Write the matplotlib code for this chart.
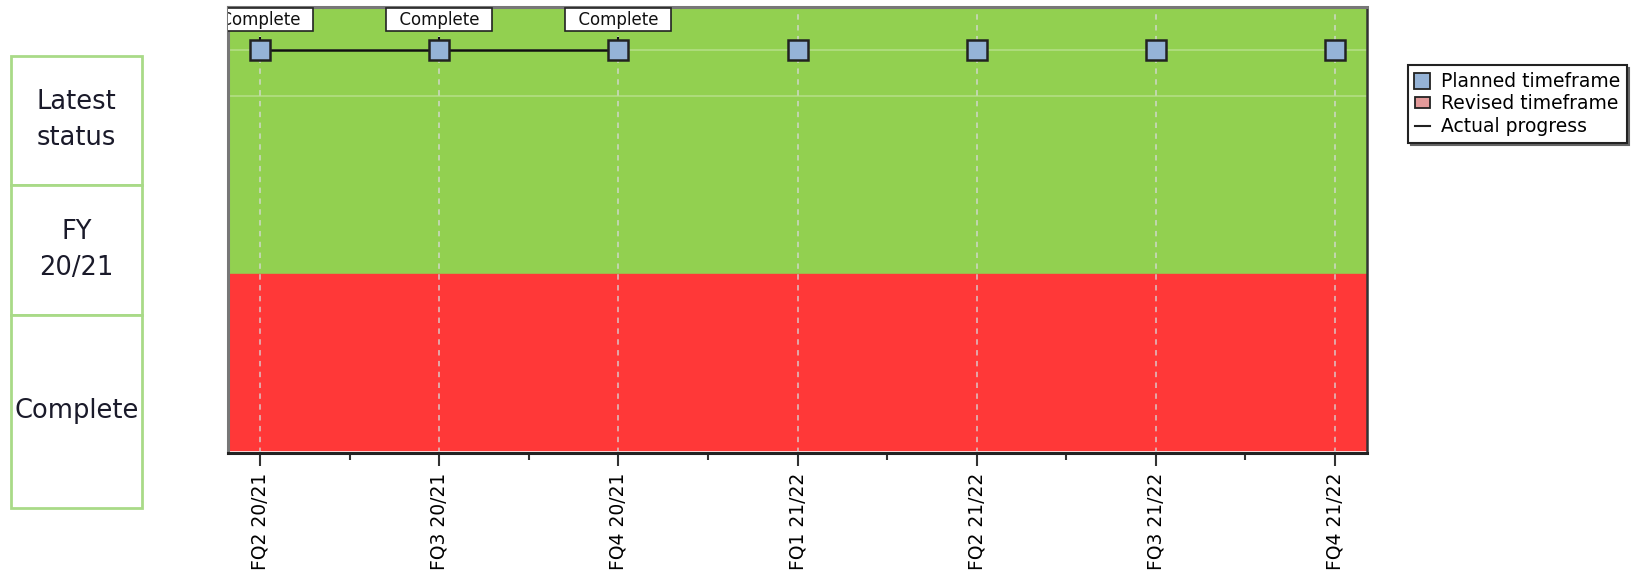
import matplotlib
matplotlib.use('Agg')
from matplotlib import pyplot as plt
from matplotlib.patches import Patch
from matplotlib.lines import Line2D
import numpy as np

quarters = ['FQ2 20/21', 'FQ3 20/21', 'FQ4 20/21', 'FQ1 21/22',
            'FQ2 21/22', 'FQ3 21/22', 'FQ4 21/22']
planned = [1, 1, 1, 1, 1, 1, 1]          # planned milestone in every quarter
actual_done = [1, 1, 1, 0, 0, 0, 0]      # actual progress reached
actual_labels = ['Complete', 'Complete', 'Complete', '', '', '', '']

# status bands (bottom, top) in axis units
green_band = (0.401, 1.0)
red_band = (0.006, 0.401)

table_rows = ['Latest\nstatus', 'FY\n20/21', 'Complete']
table_heights = [129, 130, 193]

GREEN = '#92D050'
RED = '#FF3838'
BLUE = '#95B3D7'
ROW_Y = 0.9036

plt.rcParams['font.family'] = 'DejaVu Sans'
fig = plt.figure(figsize=(16.36, 5.76), dpi=100)
ax = fig.add_axes([0.1394, 0.2135, 0.6962, 0.7743])

x = np.arange(len(quarters))
ax.axhspan(*green_band, color=GREEN, zorder=0)
ax.axhspan(*red_band, color=RED, zorder=0)

for xi in x:
    ax.axvline(xi, color='#d8d8d8', alpha=0.75, lw=1.3, ls=(0, (3, 3)), zorder=1)
for yy in [0.80, ROW_Y]:
    ax.axhline(yy, color='white', alpha=0.3, lw=1.2, zorder=1)

done_x = x[np.array(actual_done) == 1]
ax.plot(done_x, [ROW_Y] * len(done_x), color='#111', lw=1.8, zorder=3)
ax.plot(x[np.array(planned) == 1], [ROW_Y] * sum(planned), ls='none', marker='s',
        ms=15, mfc=BLUE, mec='#222', mew=1.8, zorder=4)

for xi, lab in zip(x, actual_labels):
    if not lab:
        continue
    ax.plot([xi, xi], [ROW_Y, 0.93], color='#111', lw=1.5, zorder=3)
    ax.text(xi, 0.972, '  ' + lab + '  ', ha='center', va='center', fontsize=12,
            color='#111', zorder=5, clip_on=True,
            bbox=dict(boxstyle='square,pad=0.15', fc='white', ec='#222', lw=1.2))

ax.set_xlim(-0.18, 6.18)
ax.set_ylim(0, 1)
ax.set_xticks(x)
ax.set_xticklabels(quarters, rotation=90, fontsize=13.5)
ax.set_xticks(x[:-1] + 0.5, minor=True)
ax.tick_params(axis='x', which='major', length=9, width=1.5, color='#333', pad=5)
ax.tick_params(axis='x', which='minor', length=5, width=1.5, color='#333')
ax.set_yticks([])
for side in ['left', 'top']:
    ax.spines[side].set_color('#777')
    ax.spines[side].set_linewidth(2.2)
ax.spines['right'].set_color('#333')
ax.spines['right'].set_linewidth(1.8)
ax.spines['bottom'].set_color('#222')
ax.spines['bottom'].set_linewidth(2.2)

handles = [
    Line2D([], [], ls='none', marker='s', ms=12, mfc=BLUE, mec='#222', mew=1.3),
    Patch(fc='#E39A9A', ec='#222', lw=1.3),
    Line2D([], [], color='#222', lw=1.5),
]
leg = fig.legend(handles, ['Planned timeframe', 'Revised timeframe', 'Actual progress'],
                 loc='upper left', bbox_to_anchor=(0.8606, 0.887), fontsize=13.5,
                 frameon=True, fancybox=False, shadow={'color': '0.4', 'alpha': 1},
                 handlelength=0.8, handleheight=0.5, handletextpad=0.6,
                 labelspacing=0.2, borderpad=0.35, borderaxespad=0)
leg.get_frame().set_edgecolor('#222')
leg.get_frame().set_linewidth(1.5)

tax = fig.add_axes([0.0067, 0.1181, 0.0801, 0.7847])
tax.axis('off')
tbl = tax.table(cellText=[[r] for r in table_rows], cellLoc='center',
                bbox=[0, 0, 1, 1])
tbl.auto_set_font_size(False)
for i, h in enumerate(table_heights):
    cell = tbl[i, 0]
    cell.set_height(h / sum(table_heights))
    cell.set_edgecolor('#A9DA88')
    cell.set_linewidth(2)
    cell.PAD = 0.02
    txt = cell.get_text()
    txt.set_fontsize(18.5)
    txt.set_color('#1a1a2a')
    txt.set_linespacing(1.5)

fig.savefig('out.png', dpi=100)
